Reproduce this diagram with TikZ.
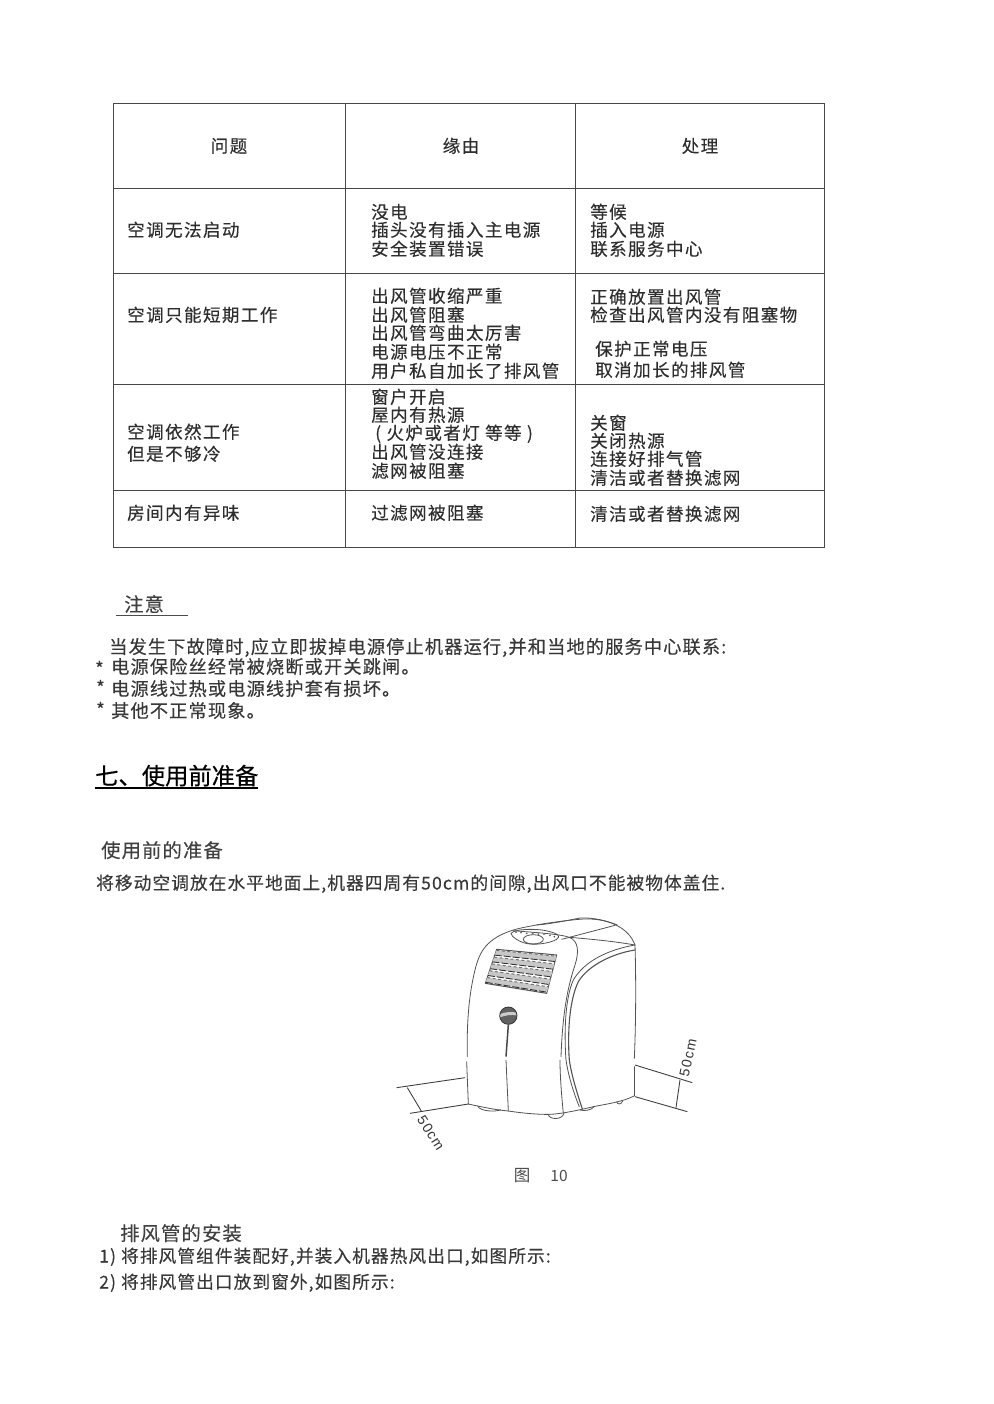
\documentclass[tikz,border=0pt]{standalone}
\usepackage{fontspec}
\setmainfont{Noto Sans CJK SC}
\newfontfamily\cellf[LetterSpace=8,FakeBold=0.25]{Noto Sans CJK SC}
\newfontfamily\notef[LetterSpace=6,FakeBold=0.25]{Noto Sans CJK SC}
\newfontfamily\headf[FakeBold=0.5]{Noto Sans CJK SC}
\newfontfamily\dimf[LetterSpace=10]{Liberation Sans}
\tikzset{
  txt/.style={anchor=west,inner sep=0pt,text height=.8em,text depth=.1em,yshift=-3pt,text=black!82,font=\cellf\fontsize{17.55}{19}\selectfont},
  note/.style={txt,font=\notef\fontsize{18.25}{19}\selectfont,text=black!78},
  para/.style={txt,font=\notef\fontsize{17.7}{19}\selectfont,text=black!78},
  sub/.style={txt,yshift=-1pt,font=\notef\fontsize{19.3}{21}\selectfont,text=black!75},
  head/.style={txt,yshift=-2pt,font=\headf\fontsize{23.3}{24}\selectfont,text=black},
  gridl/.style={draw=black!72,line width=.95pt},
  art/.style={draw=black!68,line width=.8pt,line join=round,line cap=round},
  dimen/.style={draw=black!75,line width=.9pt},
  dimt/.style={anchor=center,inner sep=0pt,text=black!80,font=\dimf\fontsize{14}{14}\selectfont},
  figt/.style={anchor=center,inner sep=0pt,text=black!70},
}
\newcommand\tl[5][txt]{\node[#1] (#2) at (#3,#4) {#5};}
\begin{document}
\begin{tikzpicture}[x=1pt,y=-1pt]
\useasboundingbox (0,0) rectangle (993,1404);
% table
\draw[gridl] (113,103) rectangle (824,547);
\foreach \yy in {188,273,384,490} \draw[gridl] (113,\yy) -- (824,\yy);
\foreach \xx in {345,575} \draw[gridl] (\xx,103) -- (\xx,547);
\node[txt,anchor=center] (h1) at (229,146) {问题};
\node[txt,anchor=center] (h2) at (461,146) {缘由};
\node[txt,anchor=center] (h3) at (700,146) {处理};
\tl{a1}{127}{230}{空调无法启动}
\tl{a2}{127}{315}{空调只能短期工作}
\tl{a3}{127}{432}{空调依然工作}
\tl{a4}{127}{454}{但是不够冷}
\tl{a5}{127}{513}{房间内有异味}
\tl{b1}{371}{212}{没电}
\tl{b2}{371}{230}{插头没有插入主电源}
\tl{b3}{371}{249}{安全装置错误}
\tl{b4}{371}{296}{出风管收缩严重}
\tl{b5}{371}{315}{出风管阻塞}
\tl{b6}{371}{333}{出风管弯曲太厉害}
\tl{b7}{371}{352}{电源电压不正常}
\tl{b8}{371}{371}{用户私自加长了排风管}
\tl{b9}{371}{397}{窗户开启}
\tl{b10}{371}{415}{屋内有热源}
\tl{b11}{375}{433}{( 火炉或者灯 等等 )}
\tl{b12}{371}{452}{出风管没连接}
\tl{b13}{371}{471}{滤网被阻塞}
\tl{b14}{371}{513}{过滤网被阻塞}
\tl{c1}{590}{212}{等候}
\tl{c2}{590}{230}{插入电源}
\tl{c3}{590}{249}{联系服务中心}
\tl{c4}{590}{297}{正确放置出风管}
\tl{c5}{590}{315}{检查出风管内没有阻塞物}
\tl{c6}{595}{349}{保护正常电压}
\tl{c7}{595}{370}{取消加长的排风管}
\tl{c8}{590}{423}{关窗}
\tl{c9}{590}{441}{关闭热源}
\tl{c10}{590}{459}{连接好排气管}
\tl{c11}{590}{478}{清洁或者替换滤网}
\tl{c12}{590}{514}{清洁或者替换滤网}
% notes
\tl[sub]{n0}{124}{604}{注意}
\draw[black!70,line width=1pt] (116,615) -- (188,615);
\tl[note]{n1}{109}{647}{当发生下故障时,应立即拔掉电源停止机器运行,并和当地的服务中心联系:}
\tl[note]{s1}{95}{669}{*}
\tl[note]{n2}{111}{667}{电源保险丝经常被烧断或开关跳闸。}
\tl[note]{s2}{96}{688}{*}
\tl[note]{n3}{111}{689}{电源线过热或电源线护套有损坏。}
\tl[note]{s3}{96}{710}{*}
\tl[note]{n4}{111}{711}{其他不正常现象。}
% heading
\tl[head]{t1}{95}{776}{七、使用前准备}
\draw[black,line width=1.1pt] (95,788) -- (258,788);
\tl[sub]{p0}{101}{850}{使用前的准备}
\tl[para]{p1}{96}{883}{将移动空调放在水平地面上,机器四周有50cm的间隙,出风口不能被物体盖住.}
% appliance
\begin{scope}[shift={(380,910)},x=.33333pt,y=-.33333pt]
\draw[art] (262,440) .. controls (260,350) and (265,260) .. (285,180) .. controls (298,125) and (320,85) .. (400,60)
  .. controls (440,48) and (540,32) .. (610,27) .. controls (680,24) and (745,50) .. (765,105)
  .. controls (768,200) and (768,330) .. (763,445);
\draw[art] (260,455) -- (265,582);
\draw[art] (762,470) -- (762,558);
\draw[art] (265,582) .. controls (310,592) and (350,600) .. (385,603) .. controls (430,610) and (480,614) .. (510,613) .. controls (540,612) and (590,602) .. (640,590) .. controls (680,582) and (730,575) .. (762,558);
\draw[art] (400,62) .. controls (470,68) and (540,72) .. (568,82) .. controls (595,92) and (598,125) .. (585,165) .. controls (565,225) and (548,300) .. (543,440);
\draw[art] (540,450) .. controls (540,500) and (545,560) .. (550,610);
\draw[art] (545,88) -- (705,46);
\draw[art] (470,45) .. controls (510,42) and (570,30) .. (600,24) .. controls (640,22) and (680,32) .. (712,45);
\draw[art] (570,82) .. controls (640,88) and (710,95) .. (765,105);
\draw[art] (765,105) .. controls (690,118) and (615,150) .. (580,210) .. controls (555,265) and (552,370) .. (558,450) .. controls (565,500) and (585,560) .. (598,590);
\draw[art,line width=1.1pt] (765,120) .. controls (700,130) and (625,165) .. (595,215) .. controls (568,270) and (562,370) .. (568,450) .. controls (575,500) and (595,560) .. (607,597);
\draw[art] (393,70) .. controls (405,55) and (480,55) .. (510,65) .. controls (530,70) and (545,78) .. (530,88) .. controls (510,100) and (460,108) .. (430,98) .. controls (415,92) and (395,82) .. (393,70) -- cycle;
\draw[art] (460,88) ellipse [x radius=30,y radius=14];
\foreach \px/\py in {408/66,423/68,440/70,458/70,475/72,492/72,510/76,523/80}
  \fill[black!60] (\px,\py) circle [radius=3];
\draw[art,line width=1pt] (350,118) -- (530,135) -- (500,250) -- (316,220) -- cycle;
\foreach \k in {0,1,2,3,4}{
  \pgfmathsetmacro{\ta}{(\k+.15)/5}
  \pgfmathsetmacro{\tb}{(\k+.85)/5}
  \pgfmathsetmacro{\ax}{350-34*\ta}\pgfmathsetmacro{\ay}{118+102*\ta}
  \pgfmathsetmacro{\bx}{530-30*\ta}\pgfmathsetmacro{\by}{135+115*\ta}
  \pgfmathsetmacro{\cx}{350-34*\tb}\pgfmathsetmacro{\cy}{118+102*\tb}
  \pgfmathsetmacro{\dx}{530-30*\tb}\pgfmathsetmacro{\dy}{135+115*\tb}
  \fill[black!22] (\ax,\ay) -- (\bx,\by) -- (\dx,\dy) -- (\cx,\cy) -- cycle;
  \draw[black!55,line width=1pt,dash pattern=on 3pt off 2.5pt] (\ax,\ay) -- (\bx,\by);
  \draw[black!80,line width=.9pt,dash pattern=on 7pt off 2pt] (\cx,\cy) -- (\dx,\dy);
}
\fill[black!62] (385,317) circle [radius=26];
\fill[black!20] (361,312) .. controls (375,306) and (395,304) .. (410,308) -- (410,316) .. controls (395,313) and (375,316) .. (360,322) -- cycle;
\draw[black!80,line width=.8pt] (385,317) circle [radius=26];
\draw[black!72,line width=1.5pt] (385,345) -- (378,440);
\draw[art] (378,450) -- (385,603);
\draw[art] (293,588) .. controls (300,605) and (350,606) .. (362,599);
\draw[art] (505,614) .. controls (508,628) and (545,632) .. (552,610);
\draw[art] (600,600) .. controls (615,604) and (635,600) .. (642,590);
\draw[art] (710,576) .. controls (712,584) and (724,584) .. (728,573);
\draw[dimen] (50,533) -- (255,503);
\draw[dimen] (90,610) -- (265,582);
\draw[dimen] (82,533) -- (125,605);
\draw[dimen] (765,465) -- (937,518);
\draw[dimen] (765,560) -- (922,605);
\draw[dimen] (900,510) -- (888,593);
\end{scope}
\node[dimt,rotate=-58] (d1) at (431,1133) {50cm};
\node[dimt,rotate=78] (d2) at (688,1058) {50cm};
\node[figt,font=\fontsize{16.5}{17}\selectfont] (f1) at (522,1176) {图};
\node[figt,font=\fontsize{15.5}{16}\selectfont] (f2) at (559,1176) {10};
% bottom text
\tl[sub]{q0}{120}{1233}{排风管的安装}
\tl[para]{q1}{99}{1256}{1) 将排风管组件装配好,并装入机器热风出口,如图所示:}
\tl[para]{q2}{99}{1282}{2) 将排风管出口放到窗外,如图所示:}
\end{tikzpicture}
\end{document}
